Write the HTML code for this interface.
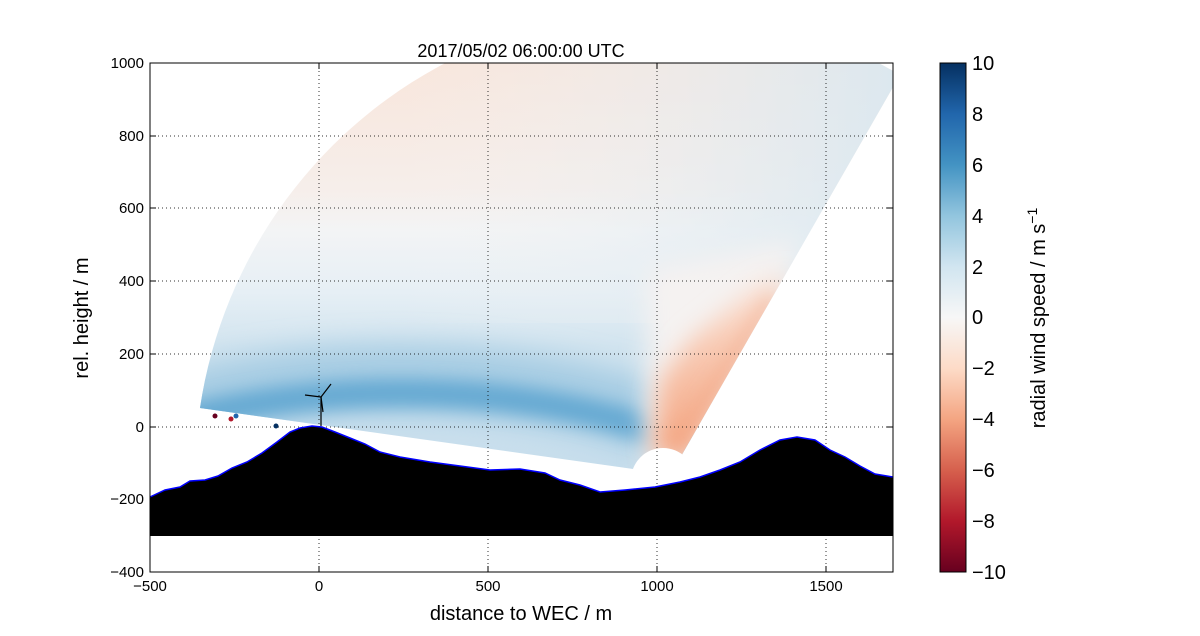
<!DOCTYPE html>
<html><head><meta charset="utf-8"><style>
html,body{margin:0;padding:0;background:#fff;overflow:hidden;width:1200px;height:636px;}
svg{display:block;}
svg text{font-family:"Liberation Sans","DejaVu Sans",sans-serif;}
</style></head><body>
<svg width="1200" height="636" viewBox="0 0 1200 636" xmlns="http://www.w3.org/2000/svg">
<defs>
<clipPath id="pc"><rect x="150" y="63" width="743" height="509"/></clipPath>
<clipPath id="fc"><path d="M640,470 L200,408 A467,467 0 0,1 900,75 L680,458 Z"/></clipPath>
<filter id="b1" x="-50%" y="-50%" width="200%" height="200%"><feGaussianBlur stdDeviation="14"/></filter>
<filter id="b2" x="-50%" y="-50%" width="200%" height="200%"><feGaussianBlur stdDeviation="8"/></filter>
<filter id="b3" x="-50%" y="-50%" width="200%" height="200%"><feGaussianBlur stdDeviation="12"/></filter>
<linearGradient id="fan" x1="0" y1="63" x2="0" y2="480" gradientUnits="userSpaceOnUse">
<stop offset="0" stop-color="#f8e6dc"/>
<stop offset="0.3" stop-color="#f6eeea"/>
<stop offset="0.4" stop-color="#f3f4f5"/>
<stop offset="0.55" stop-color="#e6eff5"/>
<stop offset="0.68" stop-color="#d2e4ef"/>
<stop offset="1" stop-color="#c6ddec"/>
</linearGradient>
<linearGradient id="red" x1="0" y1="280" x2="0" y2="460" gradientUnits="userSpaceOnUse">
<stop offset="0" stop-color="#fbe0d2"/>
<stop offset="1" stop-color="#f4a47f"/>
</linearGradient>
<linearGradient id="topr" x1="893" y1="0" x2="400" y2="0" gradientUnits="userSpaceOnUse">
<stop offset="0" stop-color="#d9e8f1"/>
<stop offset="1" stop-color="#f3f3f3" stop-opacity="0"/>
</linearGradient>
<linearGradient id="cb" x1="0" y1="63" x2="0" y2="572" gradientUnits="userSpaceOnUse">
<stop offset="0" stop-color="#053061"/>
<stop offset="0.1" stop-color="#2166ac"/>
<stop offset="0.2" stop-color="#4393c3"/>
<stop offset="0.3" stop-color="#92c5de"/>
<stop offset="0.4" stop-color="#d1e5f0"/>
<stop offset="0.5" stop-color="#f7f7f7"/>
<stop offset="0.6" stop-color="#fddbc7"/>
<stop offset="0.7" stop-color="#f4a582"/>
<stop offset="0.8" stop-color="#d6604d"/>
<stop offset="0.9" stop-color="#b2182b"/>
<stop offset="1" stop-color="#67001f"/>
</linearGradient>
</defs>
<g clip-path="url(#pc)">
<g clip-path="url(#fc)">
<rect x="150" y="63" width="760" height="420" fill="url(#fan)"/>
<rect x="150" y="63" width="760" height="260" fill="url(#topr)" opacity="0.9"/>
<ellipse cx="400" cy="545" rx="390" ry="165" fill="none" stroke="#a6cce3" stroke-width="70" filter="url(#b1)"/>
<ellipse cx="400" cy="545" rx="385" ry="152" fill="none" stroke="#67aad3" stroke-width="28" filter="url(#b2)"/>
<polygon points="648,270 800,240 700,470 645,470" fill="#f5f2f1" filter="url(#b3)"/>
<polygon points="683,458 795,275 760,285 690,340 660,380 652,455" fill="url(#red)" filter="url(#b3)"/>
<polygon points="683,458 780,292 765,300 668,445" fill="#f3a07c" opacity="0.6" filter="url(#b2)"/>
</g>
<circle cx="663" cy="480" r="32" fill="#fff"/>
</g>
<g stroke="#000" stroke-width="1" stroke-dasharray="1,3" opacity="0.8">
<line x1="319" y1="63" x2="319" y2="572"/><line x1="488" y1="63" x2="488" y2="572"/>
<line x1="657" y1="63" x2="657" y2="572"/><line x1="826" y1="63" x2="826" y2="572"/>
<line x1="150" y1="136" x2="893" y2="136"/><line x1="150" y1="208" x2="893" y2="208"/>
<line x1="150" y1="281" x2="893" y2="281"/><line x1="150" y1="354" x2="893" y2="354"/>
<line x1="150" y1="427" x2="893" y2="427"/><line x1="150" y1="499" x2="893" y2="499"/>
</g>
<polygon points="150,497 165,490 180,487 190,481 205,480 218,476 232,468 247,462 262,453 277,442 290,432 300,428 312,426 322,427 335,432 350,438 365,444 380,452 400,457 430,462 460,466 490,470 520,469 545,473 560,480 580,485 600,492 625,490 655,487 680,482 700,477 720,470 740,462 760,450 780,440 797,437 815,440 830,450 845,457 860,466 875,474 893,477 893,536 150,536" fill="#000"/>
<polyline points="150,497 165,490 180,487 190,481 205,480 218,476 232,468 247,462 262,453 277,442 290,432 300,428 312,426 322,427 335,432 350,438 365,444 380,452 400,457 430,462 460,466 490,470 520,469 545,473 560,480 580,485 600,492 625,490 655,487 680,482 700,477 720,470 740,462 760,450 780,440 797,437 815,440 830,450 845,457 860,466 875,474 893,477" fill="none" stroke="#00f" stroke-width="1.5"/>
<g stroke="#000" stroke-width="1.2">
<line x1="321" y1="426" x2="321" y2="397"/><line x1="321" y1="397" x2="331" y2="384"/>
<line x1="321" y1="397" x2="305" y2="395"/><line x1="321" y1="397" x2="323" y2="412"/>
</g>
<circle cx="215" cy="416" r="2.5" fill="#67001f"/><circle cx="231" cy="419" r="2.5" fill="#b2182b"/>
<circle cx="236" cy="416" r="2.5" fill="#2166ac"/><circle cx="276" cy="426" r="2.5" fill="#053061"/>
<rect x="150" y="63" width="743" height="509" fill="none" stroke="#000"/>
<g stroke="#000">
<line x1="319" y1="572" x2="319" y2="566"/><line x1="488" y1="572" x2="488" y2="566"/><line x1="657" y1="572" x2="657" y2="566"/><line x1="826" y1="572" x2="826" y2="566"/>
<line x1="319" y1="63" x2="319" y2="69"/><line x1="488" y1="63" x2="488" y2="69"/><line x1="657" y1="63" x2="657" y2="69"/><line x1="826" y1="63" x2="826" y2="69"/>
<line x1="150" y1="136" x2="156" y2="136"/><line x1="150" y1="208" x2="156" y2="208"/><line x1="150" y1="281" x2="156" y2="281"/><line x1="150" y1="354" x2="156" y2="354"/><line x1="150" y1="427" x2="156" y2="427"/><line x1="150" y1="499" x2="156" y2="499"/>
<line x1="893" y1="136" x2="887" y2="136"/><line x1="893" y1="208" x2="887" y2="208"/><line x1="893" y1="281" x2="887" y2="281"/><line x1="893" y1="354" x2="887" y2="354"/><line x1="893" y1="427" x2="887" y2="427"/><line x1="893" y1="499" x2="887" y2="499"/>
</g>
<g font-size="15" text-anchor="middle">
<text x="150" y="591">−500</text><text x="319" y="591">0</text><text x="488" y="591">500</text><text x="657" y="591">1000</text><text x="826" y="591">1500</text>
</g>
<g font-size="15" text-anchor="end">
<text x="144" y="68">1000</text><text x="144" y="141">800</text><text x="144" y="213">600</text><text x="144" y="286">400</text><text x="144" y="359">200</text><text x="144" y="432">0</text><text x="144" y="504">−200</text><text x="144" y="577">−400</text>
</g>
<text x="521" y="57" font-size="18" text-anchor="middle">2017/05/02 06:00:00 UTC</text>
<text x="521" y="620" font-size="20" text-anchor="middle">distance to WEC / m</text>
<text transform="translate(88,318) rotate(-90)" font-size="20" text-anchor="middle">rel. height / m</text>
<rect x="940" y="63" width="26" height="509" fill="url(#cb)" stroke="#000"/>
<g font-size="20">
<text x="972" y="70">10</text><text x="972" y="121">8</text><text x="972" y="172">6</text><text x="972" y="223">4</text><text x="972" y="274">2</text><text x="972" y="324">0</text><text x="972" y="375">−2</text><text x="972" y="426">−4</text><text x="972" y="477">−6</text><text x="972" y="528">−8</text><text x="972" y="579">−10</text>
</g>
<text transform="translate(1045,318) rotate(-90)" font-size="20" text-anchor="middle">radial wind speed / m s<tspan dy="-8" font-size="14">−1</tspan></text>
</svg>
</body></html>
